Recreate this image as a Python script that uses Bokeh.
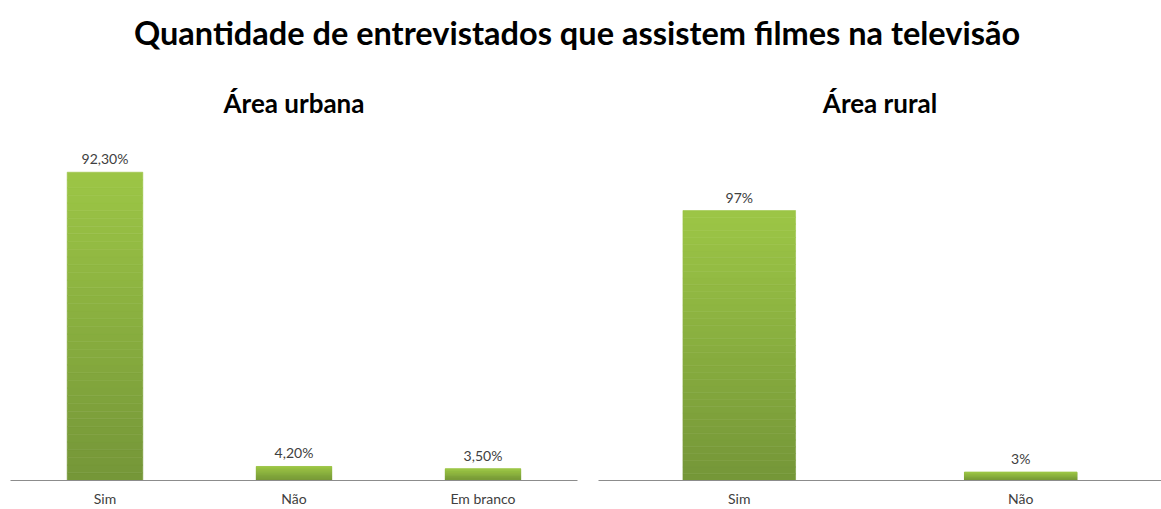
from bokeh.plotting import figure
from bokeh.models import ColumnDataSource, FactorRange, Range1d, LabelSet
from bokeh.layouts import column, row
from bokeh.embed import file_html
from bokeh.resources import INLINE
from bokeh.core.properties import value

main_title = "Quantidade de entrevistados que  assistem filmes na televisão"
urban_title = "Área urbana"
rural_title = "Área rural"
urban_categories = ["Sim", "Não", "Em branco"]
urban_values = [92.3, 4.2, 3.5]
urban_labels = ["92,30%", "4,20%", "3,50%"]
rural_categories = ["Sim", "Não"]
rural_values = [97, 3]
rural_labels = ["97%", "3%"]

FONT = "Lato"
TOP_RGB = (0x9D, 0xC6, 0x46)
BOTTOM_RGB = (0x74, 0x96, 0x38)
N_SLICES = 40


def mix(t):
    r, g, b = (int(round(BOTTOM_RGB[k] + (TOP_RGB[k] - BOTTOM_RGB[k]) * t)) for k in range(3))
    return "#%02x%02x%02x" % (r, g, b)


def panel(title, cats, vals, labels, ymax, width, bl, br):
    p = figure(x_range=FactorRange(*cats), y_range=Range1d(0, ymax),
               width=width, height=452, output_backend="svg", toolbar_location=None,
               y_axis_location=None, min_border_left=bl, min_border_right=br,
               min_border_top=60, min_border_bottom=0, outline_line_color=None)
    xs, bots, tops, cols = [], [], [], []
    for c, v in zip(cats, vals):
        for i in range(N_SLICES):
            xs.append(c)
            bots.append(v * i / N_SLICES)
            tops.append(v * (i + 1) / N_SLICES)
            cols.append(mix((i + 0.5) / N_SLICES))
    src = ColumnDataSource(dict(x=xs, b=bots, t=tops, c=cols))
    p.vbar(x="x", bottom="b", top="t", width=0.4, fill_color="c", line_color="c",
           line_width=0.6, source=src)
    lsrc = ColumnDataSource(dict(x=cats, v=vals, label=labels))
    p.add_layout(LabelSet(x="x", y="v", text="label", source=lsrc, y_offset=5,
                          text_align="center", text_baseline="bottom",
                          text_font=value(FONT), text_font_size="14px",
                          text_color="#404040"))
    p.title.text = title
    p.title.align = "center"
    p.title.text_font = FONT
    p.title.text_font_size = "26px"
    p.title.text_font_style = "bold"
    p.title.text_color = "#000000"
    p.title.standoff = 55
    p.grid.visible = False
    ax = p.xaxis[0]
    ax.axis_line_color = "#8c8c8c"
    ax.axis_line_width = 1
    ax.major_tick_line_color = None
    ax.minor_tick_line_color = None
    ax.major_tick_out = 0
    ax.major_tick_in = 0
    ax.major_label_text_font = FONT
    ax.major_label_text_font_size = "14px"
    ax.major_label_text_color = "#404040"
    ax.major_label_standoff = 9
    return p


p1 = panel(urban_title, urban_categories, urban_values, urban_labels, 100, 598, 10, 21)
p2 = panel(rural_title, rural_categories, rural_values, rural_labels, 120, 563, 0, 0)

pt = figure(width=1161, height=57, output_backend="svg", toolbar_location=None,
            x_axis_location=None, y_axis_location=None, outline_line_color=None,
            min_border_left=0, min_border_right=0, min_border_top=54, min_border_bottom=0)
pt.grid.visible = False
pt.title.text = main_title
pt.title.align = "center"
pt.title.text_font = FONT
pt.title.text_font_size = "32.5px"
pt.title.text_font_style = "bold"
pt.title.text_color = "#000000"
pt.title.standoff = 6

layout = column(pt, row(p1, p2))
open("out.html", "w").write(file_html(layout, INLINE))
